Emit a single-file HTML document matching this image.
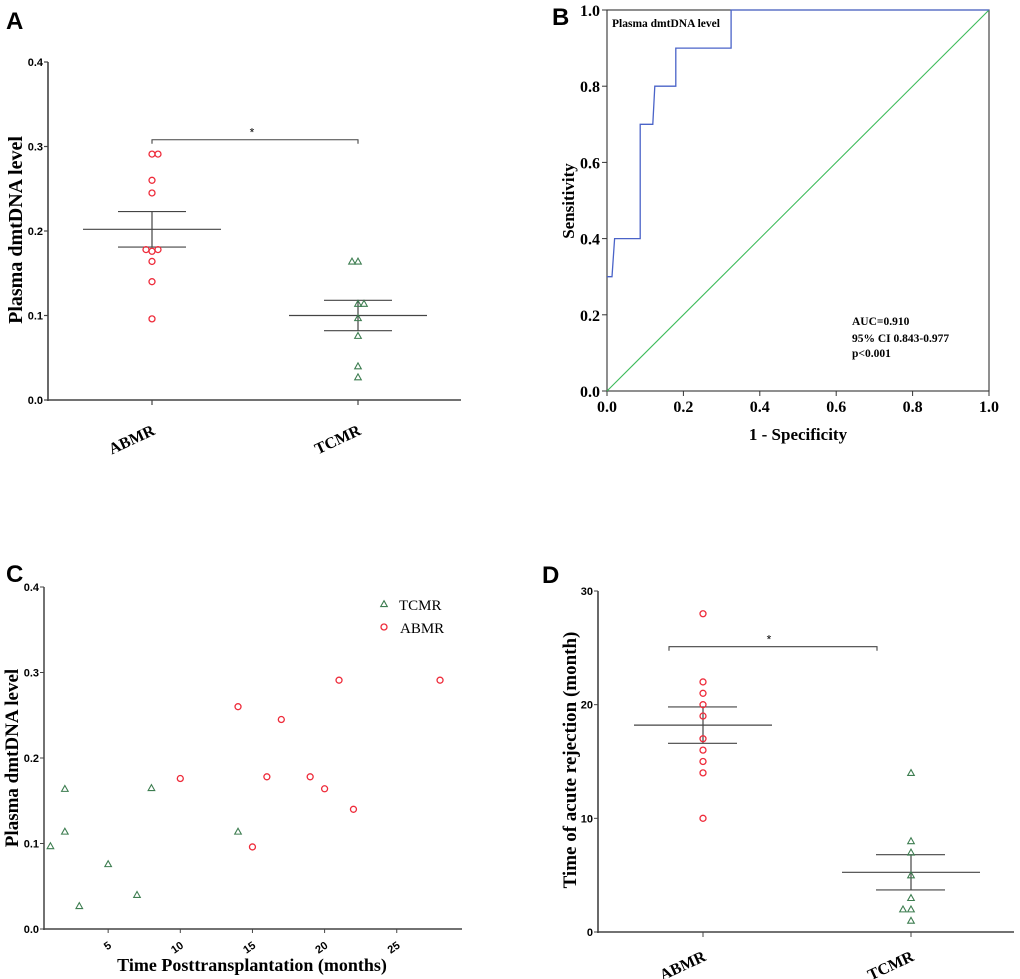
<!DOCTYPE html>
<html><head><meta charset="utf-8"><style>
html,body{margin:0;padding:0;background:#fff;}
svg{display:block;}
text{font-family:"Liberation Serif",serif;}
.sans{font-family:"Liberation Sans",sans-serif;}
</style></head><body>
<svg id="fig" width="1020" height="979" viewBox="0 0 1020 979" xmlns="http://www.w3.org/2000/svg">
<text class="sans" x="6" y="29" font-size="24" font-weight="bold">A</text>
<text class="sans" x="552" y="25" font-size="24" font-weight="bold">B</text>
<text class="sans" x="6" y="582" font-size="24" font-weight="bold">C</text>
<text class="sans" x="542" y="583" font-size="24" font-weight="bold">D</text>
<g id="pa"></g>
<g id="pb"></g>
<g id="pc"></g>
<g id="pd"></g>
</svg>
<script>
// Panel A data
const aCategories = ["ABMR", "TCMR"];
const aAbmrValues = [0.291, 0.291, 0.26, 0.245, 0.178, 0.176, 0.178, 0.164, 0.14, 0.096];
const aAbmrJitter = [0, 1, 0, 0, -1, 0, 1, 0, 0, 0];
const aTcmrValues = [0.164, 0.164, 0.114, 0.114, 0.097, 0.076, 0.040, 0.027];
const aTcmrJitter = [-1, 0, 0, 1, 0, 0, 0, 0];
const aMeans = [0.202, 0.100];
const aSemLow = [0.181, 0.082];
const aSemHigh = [0.223, 0.118];
const aTicks = ["0.0", "0.1", "0.2", "0.3", "0.4"];
// Panel B data
const rocFpr = [0, 0.013, 0.02, 0.087, 0.087, 0.12, 0.125, 0.18, 0.18, 0.325, 0.325, 1];
const rocTpr = [0.3, 0.3, 0.4, 0.4, 0.7, 0.7, 0.8, 0.8, 0.9, 0.9, 1.0, 1.0];
const bTicks = ["0.0", "0.2", "0.4", "0.6", "0.8", "1.0"];
// Panel C data
const cTcmrMonths = [1, 2, 2, 3, 5, 7, 8, 14];
const cTcmrValues = [0.097, 0.164, 0.114, 0.027, 0.076, 0.040, 0.165, 0.114];
const cAbmrMonths = [10, 14, 15, 16, 17, 19, 20, 21, 22, 28];
const cAbmrValues = [0.176, 0.26, 0.096, 0.178, 0.245, 0.178, 0.164, 0.291, 0.14, 0.291];
const cXTicks = ["5", "10", "15", "20", "25"];
const cYTicks = ["0.0", "0.1", "0.2", "0.3", "0.4"];
// Panel D data
const dAbmrValues = [28, 22, 21, 20, 19, 17, 16, 15, 14, 10];
const dTcmrValues = [14, 8, 7, 5, 3, 2, 2, 1];
const dTcmrJitter = [0, 0, 0, 0, 0, -1, 0, 0];
const dMeans = [18.2, 5.25];
const dSemLow = [16.6, 3.7];
const dSemHigh = [19.8, 6.8];
const dTicks = ["0", "10", "20", "30"];

const NS = "http://www.w3.org/2000/svg";
function mk(parent, tag, attrs, txt) {
  const e = document.createElementNS(NS, tag);
  for (const k in attrs) e.setAttribute(k, attrs[k]);
  if (txt !== undefined) e.textContent = txt;
  parent.appendChild(e);
  return e;
}
const RED = "#ee2b3a", GREEN = "#3d7d50", AX = "#444";

function circle(g, x, y, name) {
  const c = mk(g, "circle", {cx: x, cy: y, r: 3, fill: "none", stroke: RED, "stroke-width": 1.3});
  
  
}
function tri(g, x, y, name) {
  const p = mk(g, "path", {d: `M${x} ${y-3.3}L${x+3.3} ${y+2.6}L${x-3.3} ${y+2.6}Z`, fill: "none", stroke: GREEN, "stroke-width": 1.1});
  
  
}

// ---------- Panel A ----------
(function () {
  const g = document.getElementById("pa");
  const x0 = 48, x1 = 461, yTop = 62, yBot = 400;
  const ys = v => yBot - v / 0.4 * (yBot - yTop);
  const cx = [152, 358];
  mk(g, "line", {x1: x0, y1: yTop, x2: x0, y2: yBot + 1, stroke: AX, "stroke-width": 1.6});
  mk(g, "line", {x1: x0 - 1, y1: yBot, x2: x1, y2: yBot, stroke: AX, "stroke-width": 1.6});
  aTicks.forEach((t, i) => {
    const y = ys(i * 0.1);
    mk(g, "line", {x1: x0 - 4, y1: y, x2: x0, y2: y, stroke: AX, "stroke-width": 1.2});
    const tx = mk(g, "text", {x: x0 - 5, y: y + 4, "text-anchor": "end", "font-size": 11, "font-weight": "bold", class: "sans"}, t);
    
    
  });
  aCategories.forEach((c, i) => {
    mk(g, "line", {x1: cx[i], y1: yBot, x2: cx[i], y2: yBot + 5, stroke: AX, "stroke-width": 1.2});
    const tx = mk(g, "text", {x: cx[i] + 4, y: yBot + 34, "text-anchor": "end", "font-size": 16, "font-weight": "bold", transform: `rotate(-25 ${cx[i] + 4} ${yBot + 34})`}, c);
    
    
  });
  const yt = mk(g, "text", {x: 22, y: 230, "text-anchor": "middle", "font-size": 20, "font-weight": "bold", transform: "rotate(-90 22 230)"}, "Plasma dmtDNA level");
  
  
  const by = ys(0.308);
  mk(g, "path", {d: `M${cx[0]} ${by + 4}V${by}H${cx[1]}V${by + 4}`, fill: "none", stroke: AX, "stroke-width": 1.1});
  const st = mk(g, "text", {x: 252, y: by - 3, "text-anchor": "middle", "font-size": 12, class: "sans"}, "*");
  
  
  [0, 1].forEach(i => {
    mk(g, "line", {x1: cx[i] - 69, y1: ys(aMeans[i]), x2: cx[i] + 69, y2: ys(aMeans[i]), stroke: AX, "stroke-width": 1.2});
    mk(g, "line", {x1: cx[i] - 34, y1: ys(aSemLow[i]), x2: cx[i] + 34, y2: ys(aSemLow[i]), stroke: AX, "stroke-width": 1.2});
    mk(g, "line", {x1: cx[i] - 34, y1: ys(aSemHigh[i]), x2: cx[i] + 34, y2: ys(aSemHigh[i]), stroke: AX, "stroke-width": 1.2});
    mk(g, "line", {x1: cx[i], y1: ys(aSemLow[i]), x2: cx[i], y2: ys(aSemHigh[i]), stroke: AX, "stroke-width": 1.2});
  });
  aAbmrValues.forEach((v, i) => circle(g, cx[0] + aAbmrJitter[i] * 6, ys(v), 'abmr-point'));
  aTcmrValues.forEach((v, i) => tri(g, cx[1] + aTcmrJitter[i] * 6, ys(v), 'tcmr-point'));
})();

// ---------- Panel B ----------
(function () {
  const g = document.getElementById("pb");
  const x0 = 607, x1 = 989, yTop = 10, yBot = 391;
  const xs = v => x0 + v * (x1 - x0), ys = v => yBot - v * (yBot - yTop);
  mk(g, "rect", {x: x0, y: yTop, width: x1 - x0, height: yBot - yTop, fill: "none", stroke: "#333", "stroke-width": 1.1});
  bTicks.forEach((t, i) => {
    const v = i * 0.2;
    mk(g, "line", {x1: x0 - 5, y1: ys(v), x2: x0, y2: ys(v), stroke: "#333"});
    mk(g, "line", {x1: xs(v), y1: yBot, x2: xs(v), y2: yBot + 5, stroke: "#333"});
    const ty = mk(g, "text", {x: x0 - 7, y: ys(v) + 6, "text-anchor": "end", "font-size": 16, "font-weight": "bold"}, t);
    
    
    const tx = mk(g, "text", {x: xs(v), y: yBot + 21, "text-anchor": "middle", "font-size": 16, "font-weight": "bold"}, t);
    
    
  });
  const d = mk(g, "line", {x1: xs(0), y1: ys(0), x2: xs(1), y2: ys(1), stroke: "#3dbb5a", "stroke-width": 1.1});
  
  
  let path = "";
  rocFpr.forEach((f, i) => { path += (i ? "L" : "M") + xs(f).toFixed(1) + " " + ys(rocTpr[i]).toFixed(1); });
  const roc = mk(g, "path", {d: path, fill: "none", stroke: "#4a63c8", "stroke-width": 1.3});
  
  
  const lt = mk(g, "text", {x: 612, y: 27, "font-size": 11.5, "font-weight": "bold"}, "Plasma dmtDNA level");
  
  
  [["AUC=0.910", 325], ["95% CI 0.843-0.977", 342], ["p<0.001", 357]].forEach(a => {
    const t = mk(g, "text", {x: 852, y: a[1], "font-size": 11.5, "font-weight": "bold"}, a[0]);
    
    
  });
  const yt = mk(g, "text", {x: 574, y: 201, "text-anchor": "middle", "font-size": 17, "font-weight": "bold", transform: "rotate(-90 574 201)"}, "Sensitivity");
  
  
  const xt = mk(g, "text", {x: 798, y: 440, "text-anchor": "middle", "font-size": 17, "font-weight": "bold"}, "1 - Specificity");
  
  
})();

// ---------- Panel C ----------
(function () {
  const g = document.getElementById("pc");
  const x0 = 44, x1 = 462, yTop = 587, yBot = 929;
  const xs = m => 36 + m * 14.43, ys = v => yBot - v / 0.4 * (yBot - yTop);
  mk(g, "line", {x1: x0, y1: yTop, x2: x0, y2: yBot + 1, stroke: AX, "stroke-width": 1.5});
  mk(g, "line", {x1: x0 - 1, y1: yBot, x2: x1, y2: yBot, stroke: AX, "stroke-width": 1.5});
  cYTicks.forEach((t, i) => {
    const y = ys(i * 0.1);
    mk(g, "line", {x1: x0 - 4, y1: y, x2: x0, y2: y, stroke: AX});
    const tx = mk(g, "text", {x: x0 - 5, y: y + 4, "text-anchor": "end", "font-size": 11, "font-weight": "bold", class: "sans"}, t);
    
    
  });
  cXTicks.forEach(t => {
    const x = xs(+t);
    mk(g, "line", {x1: x, y1: yBot, x2: x, y2: yBot + 4, stroke: AX});
    const tx = mk(g, "text", {x: x + 4, y: yBot + 18, "text-anchor": "end", "font-size": 11, "font-weight": "bold", class: "sans", transform: `rotate(-35 ${x + 4} ${yBot + 18})`}, t);
    
    
  });
  cTcmrMonths.forEach((m, i) => tri(g, xs(m), ys(cTcmrValues[i]), 'tcmr-point'));
  cAbmrMonths.forEach((m, i) => circle(g, xs(m), ys(cAbmrValues[i]), 'abmr-point'));
  tri(g, 384, 604, 'legend-tcmr-marker');
  circle(g, 384, 627, 'legend-abmr-marker');
  const l1 = mk(g, "text", {x: 399, y: 610, "font-size": 15}, "TCMR");
  
  
  const l2 = mk(g, "text", {x: 400, y: 633, "font-size": 15}, "ABMR");
  
  
  const yt = mk(g, "text", {x: 18, y: 758, "text-anchor": "middle", "font-size": 19, "font-weight": "bold", transform: "rotate(-90 18 758)"}, "Plasma dmtDNA level");
  
  
  const xt = mk(g, "text", {x: 252, y: 971, "text-anchor": "middle", "font-size": 18, "font-weight": "bold"}, "Time Posttransplantation (months)");
  
  
})();

// ---------- Panel D ----------
(function () {
  const g = document.getElementById("pd");
  const x0 = 598, x1 = 1014, yTop = 591, yBot = 932;
  const ys = v => yBot - v / 30 * (yBot - yTop);
  const cx = [703, 911];
  const cats = ["ABMR", "TCMR"];
  mk(g, "line", {x1: x0, y1: yTop, x2: x0, y2: yBot + 1, stroke: AX, "stroke-width": 1.6});
  mk(g, "line", {x1: x0 - 1, y1: yBot, x2: x1, y2: yBot, stroke: AX, "stroke-width": 1.6});
  dTicks.forEach(t => {
    const y = ys(+t);
    mk(g, "line", {x1: x0 - 4, y1: y, x2: x0, y2: y, stroke: AX});
    const tx = mk(g, "text", {x: x0 - 5, y: y + 4, "text-anchor": "end", "font-size": 11, "font-weight": "bold", class: "sans"}, t);
    
    
  });
  cats.forEach((c, i) => {
    mk(g, "line", {x1: cx[i], y1: yBot, x2: cx[i], y2: yBot + 5, stroke: AX});
    const tx = mk(g, "text", {x: cx[i] + 4, y: yBot + 28, "text-anchor": "end", "font-size": 16, "font-weight": "bold", transform: `rotate(-25 ${cx[i] + 4} ${yBot + 28})`}, c);
    
    
  });
  const yt = mk(g, "text", {x: 576, y: 760, "text-anchor": "middle", "font-size": 19, "font-weight": "bold", transform: "rotate(-90 576 760)"}, "Time of acute rejection (month)");
  
  
  const by = ys(25.1);
  mk(g, "path", {d: `M${cx[0] - 34} ${by + 4}V${by}H${cx[1] - 34}V${by + 4}`, fill: "none", stroke: AX, "stroke-width": 1.1});
  const st = mk(g, "text", {x: 769, y: by - 3, "text-anchor": "middle", "font-size": 12, class: "sans"}, "*");
  
  
  [0, 1].forEach(i => {
    mk(g, "line", {x1: cx[i] - 69, y1: ys(dMeans[i]), x2: cx[i] + 69, y2: ys(dMeans[i]), stroke: AX, "stroke-width": 1.2});
    mk(g, "line", {x1: cx[i] - 35, y1: ys(dSemLow[i]), x2: cx[i] + 34, y2: ys(dSemLow[i]), stroke: AX, "stroke-width": 1.2});
    mk(g, "line", {x1: cx[i] - 35, y1: ys(dSemHigh[i]), x2: cx[i] + 34, y2: ys(dSemHigh[i]), stroke: AX, "stroke-width": 1.2});
    mk(g, "line", {x1: cx[i], y1: ys(dSemLow[i]), x2: cx[i], y2: ys(dSemHigh[i]), stroke: AX, "stroke-width": 1.2});
  });
  dAbmrValues.forEach(v => circle(g, cx[0], ys(v), 'abmr-point'));
  dTcmrValues.forEach((v, i) => tri(g, cx[1] + dTcmrJitter[i] * 8, ys(v), 'tcmr-point'));
})();
</script>
</body></html>
